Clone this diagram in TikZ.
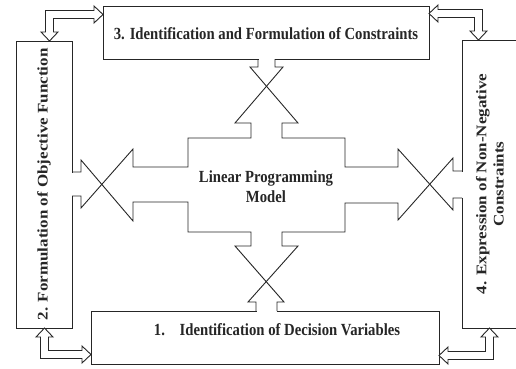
\documentclass[tikz,border=0pt]{standalone}
\usepackage{fontspec}
\setmainfont{Liberation Serif}
\usepackage{graphicx}
\newcommand{\squeeze}[1]{\scalebox{0.865}[1]{#1}}

\tikzset{
    box/.style={draw, line width=0.9pt, inner sep=0pt, font=\bfseries\fontsize{17}{20}\selectfont},
    outline/.style={line width=0.9pt, line join=miter},
    hollow/.style={draw, line width=0.9pt, fill=white, line join=miter},
}

\begin{document}
\begin{tikzpicture}[x=1pt, y=-1pt, color=black!85]
    \useasboundingbox (0,0) rectangle (516,368);
    \clip (0,0) rectangle (516,368);

    \node[box, minimum width=326, minimum height=53, text height=14.5pt] (b3) at (266,32.5) {\squeeze{3. Identification and Formulation of Constraints}};
    \node[box, minimum width=56, minimum height=287] (b2) at (44,184.5) {\squeeze{\rotatebox{90}{2. Formulation of Objective Function}}};
    \node[box, minimum width=348, minimum height=53, text depth=15pt] (b1) at (265,337.5) {\hspace*{24pt}\squeeze{1.\quad Identification of Decision Variables}};
    \node[box, minimum width=80, minimum height=288] (b4) at (502,184) {\squeeze{\rotatebox{90}{\begin{tabular}{@{}c@{}}4. Expression of Non-Negative\\Constraints\end{tabular}}}\hspace*{21pt}};
    \node[font=\bfseries\fontsize{17}{20}\selectfont, align=center, xscale=0.865] (lp) at (266,187) {Linear Programming\\Model};

    \fill[white] (258.5,57) rectangle (274.5,61);
    \fill[white] (256.5,309) rectangle (276.5,313);
    \fill[white] (70,172.5) rectangle (74,195.5);
    \fill[white] (460,171.5) rectangle (464,197.5);

    \draw[outline] (258,59) -- (258,67) -- (250,67) -- (298,123) -- (282,123) -- (282,138) -- (345,138) -- (345,167) -- (398,167) -- (398,149) -- (453,210) -- (453,198) -- (462,198);
    \draw[outline] (462,171) -- (453,171) -- (453,158) -- (398,220) -- (398,203) -- (345,203) -- (345,232) -- (282,232) -- (282,246) -- (298,246) -- (248,302) -- (256,302) -- (256,311);
    \draw[outline] (277,311) -- (277,302) -- (284,302) -- (235,246) -- (251,246) -- (251,232) -- (188,232) -- (188,202) -- (133,202) -- (133,221) -- (81,160) -- (81,172) -- (72,172);
    \draw[outline] (72,196) -- (81,196) -- (81,208) -- (133,149) -- (133,167) -- (188,167) -- (188,138) -- (251,138) -- (251,123) -- (235,123) -- (283,67) -- (275,67) -- (275,59);

    \path[hollow] (49.5,41) -- (41,32) -- (45.5,32) -- (45.5,10.5) -- (94,10.5) -- (94,6) -- (103,14.5) -- (94,23) -- (94,18.5) -- (53.5,18.5) -- (53.5,32) -- (58,32) -- cycle;
    \path[hollow] (429,13.5) -- (438,5) -- (438,9.5) -- (482.5,9.5) -- (482.5,31) -- (487,31) -- (478.5,40) -- (470,31) -- (474.5,31) -- (474.5,17.5) -- (438,17.5) -- (438,22) -- cycle;
    \path[hollow] (44.5,328) -- (53,337) -- (48.5,337) -- (48.5,350.5) -- (82,350.5) -- (82,346) -- (91,354.5) -- (82,363) -- (82,358.5) -- (40.5,358.5) -- (40.5,337) -- (36,337) -- cycle;
    \path[hollow] (439,355.5) -- (448,347) -- (448,351.5) -- (485.5,351.5) -- (485.5,337) -- (481,337) -- (489.5,328) -- (498,337) -- (493.5,337) -- (493.5,359.5) -- (448,359.5) -- (448,364) -- cycle;
\end{tikzpicture}
\end{document}
